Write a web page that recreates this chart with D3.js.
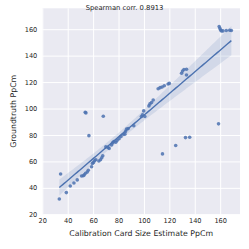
<!DOCTYPE html>
<html>
<head>
<meta charset="utf-8">
<script src="https://cdn.jsdelivr.net/npm/d3@7"></script>
<style>
  body { margin: 0; background: #fff; }
  text { font-family: "DejaVu Sans", sans-serif; fill: #262626; }
</style>
</head>
<body>
<svg id="chart" width="249" height="249"></svg>
<script>
/* Data */
const estimatePpCm = [
  33.4, 34.4, 38.9, 42, 44.9, 47.5, 50.9, 52.2, 53, 54, 55.4, 56.2, 53.8, 54.3, 56.7,
  58.8, 59.5, 60.3, 61.1, 62.1, 64.5, 65.8, 66.8, 67.6, 68, 70, 71.8, 72.6, 74.5,
  75.3, 76.3, 77.8, 78.8, 80.4, 81.9, 83.7, 85, 85.5, 86.3, 87.6, 92, 98, 98.9,
  99.8, 100.7, 103.9, 104.7, 106, 107.3, 111.2, 112.7, 114.3, 116, 119, 120, 114.6,
  125, 129.6, 130.4, 131.5, 133.5, 133.5, 132.7, 136, 158.7, 159.2, 159.8, 160.3,
  161, 162.2, 164.8, 167.5, 168.8
];
const groundtruthPpCm = [
  31.6, 50.5, 36.4, 41.4, 43.7, 46, 49, 49.2, 49.8, 51, 52, 53.3, 97.2, 96.7, 79.5,
  56, 58.5, 59.2, 60.5, 61.3, 60.3, 61.3, 62.8, 64.3, 94.2, 71, 70.5, 69.8, 72.5,
  74, 75, 74.5, 75.8, 77.1, 78.8, 80.5, 80.6, 82.6, 84.4, 84.8, 87, 94, 95.2,
  98.2, 94, 102, 103.5, 104.5, 106.5, 115, 115.8, 116.3, 117.2, 118.6, 119, 65.7,
  72, 126.7, 128.3, 129.5, 129.7, 125.4, 78, 78.3, 88.4, 162, 160.6, 159.4,
  158.7, 158.7, 159, 159.2, 159
];
const xTicks = [20, 40, 60, 80, 100, 120, 140, 160];
const yTicks = [20, 40, 60, 80, 100, 120, 140, 160];
const titleText = "Spearman corr. 0.8913";

const points = estimatePpCm.map((x, i) => ({ x: x, y: groundtruthPpCm[i] }));

const svg = d3.select("#chart");
const plotL = 42.3, plotR = 240, plotT = 8.3, plotB = 214.3;
const blue = "#4c72b0";

const x = d3.scaleLinear().domain([20, 175.6]).range([plotL, plotR]);
const y = d3.scaleLinear().domain([20, 175.8]).range([plotB, plotT]);

/* background + grid */
svg.append("rect")
  .attr("x", plotL).attr("y", plotT)
  .attr("width", plotR - plotL).attr("height", plotB - plotT)
  .attr("fill", "#eaeaf2");

svg.append("g")
  .attr("transform", `translate(0,${plotB})`)
  .call(d3.axisBottom(x).tickValues(xTicks).tickSize(-(plotB - plotT)).tickPadding(4))
  .call(g => g.select(".domain").remove())
  .call(g => g.selectAll("line").attr("stroke", "#fff").attr("stroke-width", 1))
  .call(g => g.selectAll("text").attr("font-size", "6.6px").attr("fill", "#262626")
    .attr("font-family", "DejaVu Sans"));

svg.append("g")
  .attr("transform", `translate(${plotL},0)`)
  .call(d3.axisLeft(y).tickValues(yTicks).tickSize(-(plotR - plotL)).tickPadding(5))
  .call(g => g.select(".domain").remove())
  .call(g => g.selectAll("line").attr("stroke", "#fff").attr("stroke-width", 1))
  .call(g => g.selectAll("text").attr("font-size", "6.6px").attr("fill", "#262626")
    .attr("font-family", "DejaVu Sans"));

/* linear fit, 95% band from a robust (sandwich) covariance,
   which behaves like seaborn's bootstrap with these outliers */
const n = points.length;
const mx = d3.mean(points, d => d.x);
const my = d3.mean(points, d => d.y);
const sxx = d3.sum(points, d => (d.x - mx) ** 2);
const sxy = d3.sum(points, d => (d.x - mx) * (d.y - my));
const slope = sxy / sxx;
const icept = my - slope * mx;

// centred x: var(a) = sum(e^2)/n^2, var(b) = sum(dx^2 e^2)/sxx^2, cov = sum(dx e^2)/(n sxx)
let s0 = 0, s1 = 0, s2 = 0;
points.forEach(d => {
  const e2 = (d.y - (icept + slope * d.x)) ** 2;
  const dx = d.x - mx;
  s0 += e2; s1 += dx * e2; s2 += dx * dx * e2;
});
const va = s0 / (n * n), vb = s2 / (sxx * sxx), cab = s1 / (n * sxx);
const tval = 1.96;

const [xmin, xmax] = d3.extent(points, d => d.x);
const fit = d3.range(0, 101).map(i => {
  const xv = xmin + (xmax - xmin) * i / 100;
  const yv = icept + slope * xv;
  const dx = xv - mx;
  const h = tval * Math.sqrt(va + dx * dx * vb + 2 * dx * cab);
  return { x: xv, y: yv, lo: yv - h, hi: yv + h };
});

svg.append("path")
  .datum(fit)
  .attr("fill", blue)
  .attr("fill-opacity", 0.15)
  .attr("d", d3.area().x(d => x(d.x)).y0(d => y(d.lo)).y1(d => y(d.hi)));

svg.selectAll("circle.pt")
  .data(points)
  .enter()
  .append("circle")
  .attr("class", "pt")
  .attr("cx", d => x(d.x))
  .attr("cy", d => y(d.y))
  .attr("r", 1.8)
  .attr("fill", blue)
  .attr("fill-opacity", 0.85);

svg.append("path")
  .datum(fit)
  .attr("fill", "none")
  .attr("stroke", blue)
  .attr("stroke-width", 1.4)
  .attr("d", d3.line().x(d => x(d.x)).y(d => y(d.y)));

/* labels */
svg.append("text")
  .attr("x", 124.5).attr("y", 9.5)
  .attr("text-anchor", "middle")
  .attr("font-size", "6.8px")
  .text(titleText);

svg.append("text")
  .attr("x", (plotL + plotR) / 2).attr("y", 236)
  .attr("text-anchor", "middle")
  .attr("font-size", "7.8px")
  .text("Calibration Card Size Estimate PpCm");

svg.append("text")
  .attr("transform", `translate(16,${(plotT + plotB) / 2}) rotate(-90)`)
  .attr("text-anchor", "middle")
  .attr("font-size", "7.8px")
  .text("Groundtruth PpCm");
</script>
</body>
</html>
